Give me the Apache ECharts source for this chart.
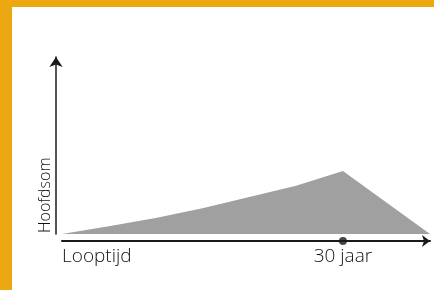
<!DOCTYPE html>
<html>
<head>
<meta charset="utf-8">
<script src="https://cdn.jsdelivr.net/npm/echarts@6/dist/echarts.min.js"></script>
<style>
html,body{margin:0;padding:0;}
#frame{position:absolute;left:0;top:0;width:434px;height:290px;background:#eda711;}
#chart{position:absolute;left:12px;top:7px;width:422px;height:283px;background:#ffffff;}
</style>
</head>
<body>
<div id="frame"><div id="chart"></div></div>
<script>
// Data (years vs. principal repaid, arbitrary units)
var years = [0, 5, 10, 15, 20, 25, 30, 39.3];
var principal = [0, 4.4, 9.1, 14.5, 20.9, 27.3, 35.6, 0];
var markerYear = [30];
var markerValue = [-3.95];
var xTickLabels = {0: 'Looptijd', 30: '30 jaar'};
var yAxisName = 'Hoofdsom';

var areaData = years.map(function (y, i) { return [y, principal[i]]; });
var dotData = markerYear.map(function (y, i) { return [y, markerValue[i]]; });

var chart = echarts.init(document.getElementById('chart'));
var font = '"Open Sans", Lato, sans-serif';
chart.setOption({
  animation: false,
  backgroundColor: '#ffffff',
  grid: {left: 50, right: 4, top: 50, bottom: 56},
  xAxis: {
    type: 'value', min: 0, max: 39.3, interval: 30, offset: 7,
    axisLine: {show: true, onZero: false, lineStyle: {color: '#1a1a1a', width: 2}, symbol: ['none', 'arrow'], symbolSize: [9, 8]},
    axisTick: {show: false},
    splitLine: {show: false},
    axisLabel: {
      show: true, margin: 6, color: '#111', fontFamily: font, fontSize: 19, fontWeight: 300,
      showMaxLabel: false, alignMinLabel: 'left',
      formatter: function (v) { return xTickLabels[v] || ''; }
    }
  },
  yAxis: {
    type: 'value', min: 0, max: 100, offset: 6,
    name: yAxisName, nameLocation: 'start', nameRotate: 90, nameGap: -1,
    nameTextStyle: {color: '#111', fontFamily: font, fontSize: 16, fontWeight: 300, align: 'left', verticalAlign: 'bottom', padding: [0, 0, 3, 0]},
    axisLine: {show: true, onZero: false, lineStyle: {color: '#1a1a1a', width: 1.5}, symbol: ['none', 'arrow'], symbolSize: [10, 10]},
    axisTick: {show: false},
    splitLine: {show: false},
    axisLabel: {show: false}
  },
  series: [
    {
      type: 'line', data: areaData, symbol: 'none', silent: true,
      lineStyle: {width: 0}, areaStyle: {color: '#a0a0a0', opacity: 1}
    },
    {
      type: 'scatter', data: dotData, symbol: 'circle', symbolSize: 8, clip: false,
      itemStyle: {color: '#1a1a1a'}, z: 5
    }
  ]
});
</script>
</body>
</html>
